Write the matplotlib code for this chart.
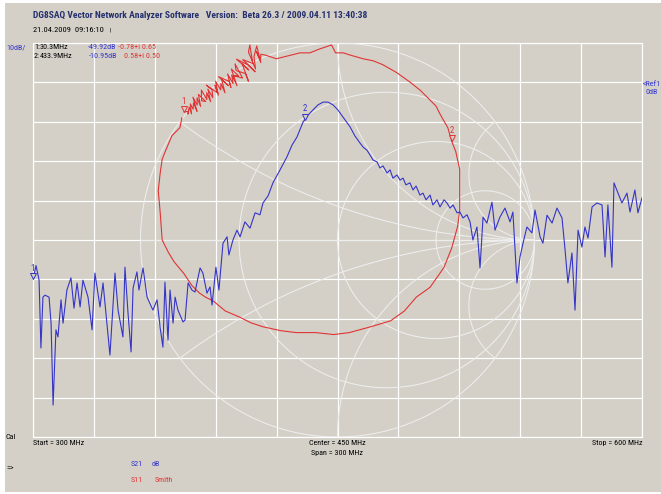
import numpy as np
import matplotlib
matplotlib.use("Agg")
import matplotlib.pyplot as plt
from matplotlib.patches import Rectangle
from matplotlib.transforms import offset_copy

# S21 trace (MHz, dB)
freq_mhz = [300.0, 301.5, 303.0, 303.9, 304.9, 305.9, 307.9, 308.9, 309.9, 311.3,
            312.3, 313.8, 314.8, 316.7, 318.7, 320.2, 321.7, 323.2, 324.6, 327.1,
            329.1, 330.5, 333.0, 334.5, 337.9, 340.4, 341.9, 344.3, 345.3, 346.8,
            348.3, 349.3, 351.2, 352.2, 354.2, 356.2, 359.1, 361.1, 362.6, 364.0,
            365.0, 366.5, 367.5, 369.0, 370.0, 371.4, 373.9, 374.9, 376.4, 378.3,
            379.8, 382.3, 383.7, 385.7, 387.2, 388.2, 390.1, 391.6, 393.6, 395.6,
            396.5, 398.5, 400.5, 402.0, 404.4, 406.9, 409.4, 411.8, 413.3, 415.8,
            418.2, 421.7, 425.1, 427.6, 430.0, 433.0, 435.5, 437.9, 440.4, 442.9,
            445.3, 447.8, 450.2, 452.7, 456.2, 458.6, 461.1, 462.6, 464.5, 466.0,
            467.5, 469.5, 470.9, 472.4, 474.4, 475.9, 477.3, 479.3, 480.8, 482.3,
            483.7, 485.7, 487.2, 488.7, 490.6, 492.1, 493.6, 495.6, 497.0, 499.0,
            500.5, 502.5, 503.9, 505.4, 506.9, 508.9, 510.3, 511.8, 513.8, 515.3,
            516.7, 518.7, 520.2, 521.7, 523.6, 526.1, 527.6, 530.0, 532.5, 535.0,
            536.4, 538.4, 539.9, 541.4, 543.3, 545.8, 547.3, 549.8, 551.2, 553.2,
            555.7, 558.1, 560.6, 562.1, 563.5, 565.5, 567.0, 568.5, 570.4, 571.9,
            573.4, 575.4, 577.8, 580.3, 581.8, 583.2, 585.2, 586.2, 588.2, 590.1,
            592.6, 594.1, 596.5, 598.0, 600.0]
s21_db = [-49.9, -46.5, -50.2, -67.4, -54.5, -54.0, -54.5, -61.1, -81.9, -62.8,
          -64.6, -55.2, -61.1, -52.7, -49.6, -57.3, -50.9, -57.0, -50.2, -54.5,
          -62.8, -48.4, -57.0, -50.9, -69.2, -48.4, -57.8, -64.6, -46.9, -58.5,
          -68.4, -52.2, -48.1, -52.7, -47.1, -54.5, -57.8, -55.2, -62.1, -67.2,
          -50.7, -65.4, -52.7, -61.1, -54.5, -57.8, -60.8, -60.3, -50.9, -52.7,
          -53.2, -47.1, -48.4, -53.5, -51.9, -56.5, -46.9, -52.7, -40.8, -39.2,
          -43.8, -40.0, -37.5, -39.2, -35.4, -37.0, -33.1, -33.6, -30.6, -28.8,
          -25.5, -22.2, -18.9, -15.9, -13.9, -10.1, -8.3, -7.0, -5.7, -5.0,
          -5.0, -5.7, -7.0, -8.8, -11.3, -13.6, -15.4, -16.4, -17.2, -18.4,
          -19.7, -20.2, -21.7, -21.2, -23.0, -22.2, -24.3, -23.5, -24.8, -24.3,
          -26.0, -25.5, -27.3, -26.3, -28.6, -28.1, -29.8, -28.6, -31.1, -29.8,
          -31.6, -29.8, -30.6, -31.9, -31.1, -33.1, -32.9, -34.4, -33.6, -35.4,
          -40.0, -36.7, -47.1, -34.2, -35.7, -30.4, -37.5, -34.2, -31.9, -35.4,
          -32.9, -50.9, -44.3, -40.8, -36.7, -38.2, -32.4, -39.2, -40.8, -33.7,
          -35.7, -31.9, -34.4, -42.5, -50.9, -43.3, -57.8, -37.5, -41.8, -36.7,
          -39.5, -31.6, -30.6, -31.1, -44.3, -31.1, -46.9, -25.5, -28.1, -30.6,
          -28.1, -32.9, -27.3, -33.1, -29.3]

# S11 trace on the Smith chart (reflection coefficient, re / im)
s11_re = [-0.779, -0.757, -0.759, -0.753, -0.741, -0.747, -0.733, -0.731, -0.713, -0.734,
          -0.712, -0.713, -0.695, -0.706, -0.669, -0.690, -0.691, -0.663, -0.664, -0.644,
          -0.658, -0.633, -0.637, -0.666, -0.607, -0.622, -0.605, -0.619, -0.593, -0.592,
          -0.571, -0.588, -0.554, -0.604, -0.550, -0.541, -0.558, -0.530, -0.537, -0.510,
          -0.539, -0.502, -0.527, -0.482, -0.520, -0.515, -0.467, -0.452, -0.484, -0.450,
          -0.513, -0.456, -0.418, -0.481, -0.430, -0.445, -0.452, -0.416, -0.424, -0.410,
          -0.389, -0.412, -0.391, -0.389, -0.368, -0.340, -0.310,
          -0.27, -0.23, -0.19, -0.14, -0.09, -0.03, -0.01, 0.03, 0.06, 0.13,
          0.18, 0.23, 0.30, 0.37, 0.42, 0.45, 0.50, 0.52, 0.56, 0.58,
          0.60, 0.62, 0.62, 0.62, 0.61, 0.58, 0.54, 0.47, 0.40, 0.34,
          0.27, 0.17, 0.06, -0.02, -0.11, -0.21, -0.29, -0.38, -0.44, -0.50,
          -0.57, -0.63, -0.67, -0.70, -0.74, -0.78, -0.83, -0.86, -0.89, -0.90,
          -0.91, -0.90, -0.89, -0.87, -0.84, -0.80, -0.79]
s11_im = [0.650, 0.653, 0.639, 0.675, 0.640, 0.691, 0.664, 0.696, 0.653, 0.725,
          0.685, 0.722, 0.678, 0.739, 0.703, 0.707, 0.761, 0.713, 0.749, 0.702,
          0.766, 0.722, 0.762, 0.786, 0.746, 0.785, 0.735, 0.806, 0.762, 0.794,
          0.747, 0.815, 0.784, 0.829, 0.805, 0.774, 0.843, 0.794, 0.839, 0.783,
          0.868, 0.833, 0.834, 0.822, 0.894, 0.860, 0.845, 0.806, 0.895, 0.863,
          0.918, 0.890, 0.854, 0.916, 0.896, 0.990, 0.954, 0.868, 0.931, 0.985,
          0.900, 0.958, 0.911, 0.943, 0.939, 0.930, 0.920,
          0.93, 0.94, 0.95, 0.95, 0.97, 0.99, 0.95, 0.95, 0.94, 0.92,
          0.91, 0.89, 0.85, 0.80, 0.76, 0.73, 0.68, 0.64, 0.57, 0.50,
          0.45, 0.36, 0.25, 0.15, 0.07, -0.04, -0.14, -0.24, -0.29, -0.36,
          -0.41, -0.44, -0.47, -0.48, -0.47, -0.47, -0.46, -0.44, -0.42, -0.39,
          -0.36, -0.31, -0.29, -0.27, -0.23, -0.17, -0.11, -0.06, 0.00, 0.14,
          0.25, 0.34, 0.41, 0.46, 0.53, 0.57, 0.62]

# markers
marker_freq = [300.0, 433.9]
marker_s11_re = [-0.78, 0.58]
marker_s11_im = [0.65, 0.50]

# Smith chart grid
smith_r = [1 / 3, 1, 3]
smith_x = [1 / 3, 1, 3, -1 / 3, -1, -3]

BG = "#D4D0C8"
BLUE = "#3434C8"
RED = "#E03434"
NAVY = "#24306E"
SMITH = "#EEEEEE"
FONT = ["Roboto Condensed", "DejaVu Sans"]
FS = 5.8

W, H = 661, 494
fig = plt.figure(figsize=(W / 100, H / 100), dpi=100, facecolor="white")
fig.add_artist(Rectangle((5 / W, 2 / H), 1, 1 - 5 / H, transform=fig.transFigure,
                         facecolor=BG, edgecolor="none", zorder=0))

pos = [33 / W, 1 - 437 / H, 609 / W, 394 / H]
ax = fig.add_axes(pos, facecolor=BG)
ax.set_xlim(300, 600)
ax.set_ylim(-90, 10)
ax.set_xticks(np.linspace(300, 600, 11))
ax.set_yticks(np.linspace(-90, 10, 11))
ax.grid(True, color="white", lw=0.85)
ax.tick_params(length=0, labelbottom=False, labelleft=False)
for s in ax.spines.values():
    s.set_color("white")
    s.set_linewidth(0.85)

# Smith chart overlay, unit circle = half the plot height
ax_s = fig.add_axes(pos, facecolor="none")
ax_s.axis("off")

t = np.linspace(0, 2 * np.pi, 500)
ax_s.plot(np.cos(t), np.sin(t), color=SMITH, lw=0.75)
ax_s.plot([-1, 1], [0, 0], color=SMITH, lw=0.75)
for r in smith_r:
    c, rad = r / (1 + r), 1 / (1 + r)
    ax_s.plot(c + rad * np.cos(t), rad * np.sin(t), color=SMITH, lw=0.75)
rr = np.concatenate([[0], np.logspace(-3, 4, 600)])
for xv in smith_x:
    z = rr + 1j * xv
    g = (z - 1) / (z + 1)
    ax_s.plot(g.real, g.imag, color=SMITH, lw=0.75)

ax_s.plot(s11_re, s11_im, color=RED, lw=0.8)
ax_s.plot(freq_mhz, s21_db, color=BLUE, lw=0.8, transform=ax.transData)

asp = (609 / 394)
ax_s.set_xlim(-asp, asp)
ax_s.set_ylim(-1, 1)


def marker(tr, x, y, label, color):
    tri = offset_copy(tr, fig=fig, x=0, y=3, units="dots")
    ax_s.plot([x], [y], marker="v", ms=4, mfc=BG, mec=color, mew=0.7,
              transform=tri, clip_on=False, zorder=5)
    ax_s.annotate(label, (x, y), xycoords=tr, xytext=(0, 4.5),
                  textcoords="offset points", ha="center", va="bottom",
                  color=color, fontsize=6.4, family=FONT, zorder=6,
                  annotation_clip=False)


m_db = np.interp(marker_freq, freq_mhz, s21_db)
for i, (f, d) in enumerate(zip(marker_freq, m_db)):
    marker(ax.transData, f, d, str(i + 1), BLUE)
for i, (re, im) in enumerate(zip(marker_s11_re, marker_s11_im)):
    marker(ax_s.transData, re, im, str(i + 1), RED)


def txt(px, py, s, color="black", ha="left", size=FS, **kw):
    fig.text(px / W, 1 - py / H, s, color=color, ha=ha, va="center",
             fontsize=size, family=FONT, **kw)


txt(33, 15, "DG8SAQ Vector Network Analyzer Software   Version:  Beta 26.3 / 2009.04.11 13:40:38",
    color=NAVY, fontweight="bold", size=6.8)
txt(33, 30, "21.04.2009  09:16:10", size=6.1)
txt(110, 30, "|", size=4.5)
txt(6, 47, "10dB/", BLUE)

txt(34, 47, "1:")
txt(40, 47, "30.3MHz")
txt(88, 47, "-49.92dB", BLUE)
txt(118, 47, "-0.78+i 0.65", RED)
txt(34, 56, "2:")
txt(40, 56, "433.9MHz")
txt(89, 56, "-10.95dB", BLUE)
txt(124, 56, "0.58+i 0.50", RED)

txt(643, 84, "<Ref1", BLUE)
txt(645, 92, "0dB", BLUE)

txt(6, 437, "Cal")
txt(33, 443, "Start = 300 MHz")
txt(337, 443, "Center = 450 MHz", ha="center")
txt(337, 453, "Span = 300 MHz", ha="center")
txt(642, 443, "Stop = 600 MHz", ha="right")

txt(6, 469, "=>")
txt(131, 464, "S21", BLUE)
txt(152, 464, "dB", BLUE)
txt(131, 480, "S11", RED)
txt(155, 480, "Smith", RED)

fig.savefig("out.png", dpi=100, facecolor=fig.get_facecolor())
